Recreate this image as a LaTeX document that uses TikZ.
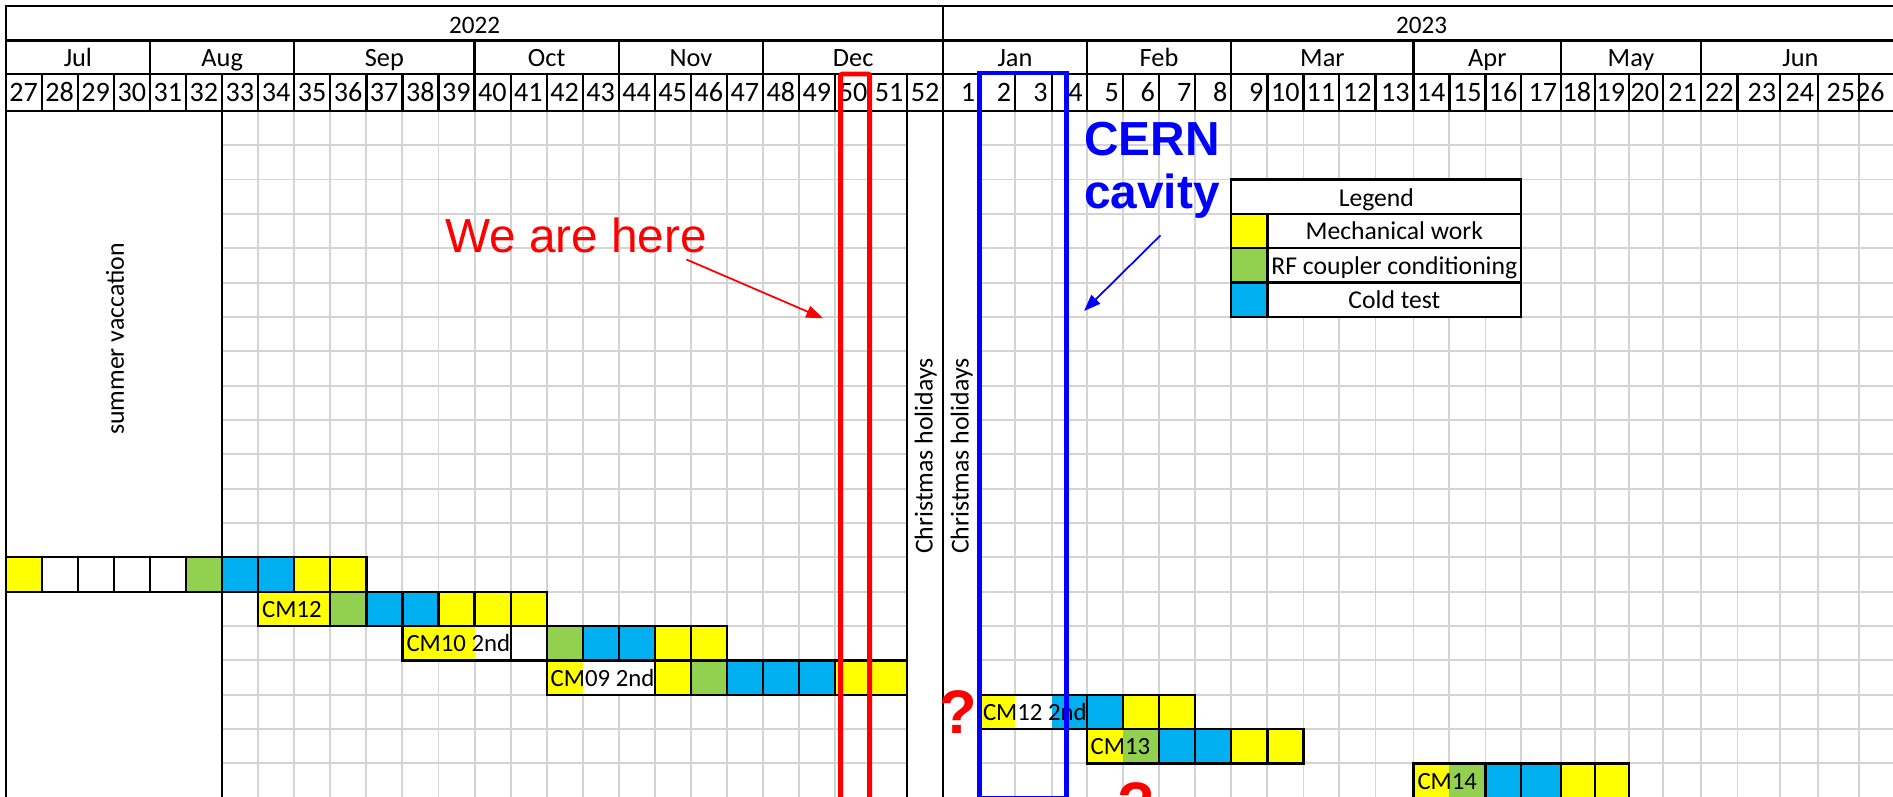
\documentclass[tikz,border=0pt]{standalone}
\usepackage{fontspec}
\setmainfont{Carlito}
\newfontfamily\arialfont{Liberation Sans}
\usetikzlibrary{arrows.meta}
\definecolor{cyel}{HTML}{FFFF00}
\definecolor{cgrn}{HTML}{92D050}
\definecolor{cblu}{HTML}{00B0F0}
\definecolor{cgrid}{RGB}{212,212,212}
\definecolor{cred}{HTML}{FF0000}
\definecolor{cblue}{HTML}{0000FF}
\begin{document}
\begin{tikzpicture}[x=0.02cm,y=-0.02cm,
 blk/.style={line width=1.25pt,draw=black,line cap=rect},
 grd/.style={line width=1.1pt,draw=cgrid},
 txt/.style={inner sep=0pt,outer sep=0pt},
 wklbl/.style={txt,anchor=base east,font=\fontsize{16}{18}\selectfont},
 yrlbl/.style={txt,anchor=base,font=\fontsize{14.3}{16}\selectfont},
 hdlbl/.style={txt,anchor=base,font=\fontsize{15}{17}\selectfont},
 barlbl/.style={txt,anchor=base west,font=\fontsize{14.1}{16}\selectfont},
 lglbl/.style={txt,anchor=base,font=\fontsize{14.6}{16}\selectfont},
 vertlbl/.style={txt,rotate=90,font=\fontsize{14.7}{16}\selectfont},
 redtxt/.style={txt,anchor=base west,text=cred,font=\arialfont\fontsize{27.2}{30}\selectfont},
 bluetxt/.style={txt,anchor=base,text=cblue,font=\arialfont\bfseries\fontsize{27.2}{30}\selectfont},
 qmark/.style={txt,anchor=base,text=cred,font=\arialfont\bfseries\fontsize{35}{40}\selectfont},
 redbox/.style={draw=cred,line width=2.8pt,rounded corners=1.2pt},
 bluebox/.style={draw=cblue,line width=2.8pt},
 redarr/.style={draw=cred,line width=1pt,-{Triangle[length=9.5pt,width=7pt]}},
 bluearr/.style={draw=cblue,line width=1pt,-{Triangle[length=9.5pt,width=7pt]}}
]
\clip (0,0) rectangle (1893,797);
\fill[white] (0,0) rectangle (1893,797);

% column boundaries and row boundaries
\foreach \k/\v in {0/5.8,1/41.86,2/77.92,3/113.98,4/150.04,5/186.1,6/222.16,7/258.22,8/294.28,9/330.34,10/366.4,11/402.46,12/438.52,13/474.58,14/510.64,15/546.7,16/582.76,17/618.82,18/654.88,19/690.94,20/727.0,21/763.06,22/799.12,23/835.18,24/871.24,25/907.3,26/943.36,27/979.0,28/1015.2,29/1051.6,30/1086.7,31/1122.8,32/1158.9,33/1195.3,34/1231.3,35/1267.4,36/1303.5,37/1339.0,38/1375.5,39/1413.5,40/1449.4,41/1485.5,42/1521.3,43/1561.2,44/1595.0,45/1629.0,46/1663.0,47/1700.8,48/1737.5,49/1780.2,50/1818.0,51/1859.0,52/1900}
  \coordinate (x\k) at (\v,0);
\foreach \r in {0,...,20}
  \coordinate (y\r) at (0,{110.8+34.35*\r});
\coordinate (h0) at (0,6);
\coordinate (h1) at (0,40.5);
\coordinate (h2) at (0,74);

% light grid
\foreach \k in {7,...,24} \draw[grd] (x\k|-y0) -- (x\k|-y20);
\foreach \k in {28,...,51} \draw[grd] (x\k|-y0) -- (x\k|-y20);
\foreach \r in {1,...,19} {
  \draw[grd] (x6|-y\r) -- (x25|-y\r);
  \draw[grd] (x27|-y\r) -- (x52|-y\r);
}

% legend
\fill[white] (x34|-y2) rectangle (x42|-y6);
\fill[cyel] (x34|-y3) rectangle (x35|-y4);
\fill[cgrn] (x34|-y4) rectangle (x35|-y5);
\fill[cblu] (x34|-y5) rectangle (x35|-y6);
\draw[blk] (x34|-y2) rectangle (x42|-y6);
\foreach \r in {3,4,5} \draw[blk] (x34|-y\r) -- (x42|-y\r);
\draw[blk] (x35|-y3) -- (x35|-y6);
\node[lglbl] (lgt) at (1376.3,206.35) {Legend};
\node[lglbl] (lg1) at (1394.35,239.7) {Mechanical work};
\node[lglbl] (lg2) at (1394.35,274.05) {RF coupler conditioning};
\node[lglbl] (lg3) at (1394.35,308.4) {Cold test};

% bar fills
\foreach \a/\b/\r/\s/\c in {0/1/13/14/cyel,1/5/13/14/white,5/6/13/14/cgrn,6/8/13/14/cblu,8/10/13/14/cyel,
  7/9/14/15/cyel,9/10/14/15/cgrn,10/12/14/15/cblu,12/15/14/15/cyel,
  11/13/15/16/cyel,13/15/15/16/white,15/16/15/16/cgrn,16/18/15/16/cblu,18/20/15/16/cyel,
  15/16/16/17/cyel,16/18/16/17/white,18/19/16/17/cyel,19/20/16/17/cgrn,20/23/16/17/cblu,23/25/16/17/cyel,
  27/28/17/18/cyel,28/29/17/18/white,29/31/17/18/cblu,31/33/17/18/cyel,
  30/31/18/19/cyel,31/32/18/19/cgrn,32/34/18/19/cblu,34/36/18/19/cyel,
  39/40/19/20/cyel,40/41/19/20/cgrn,41/43/19/20/cblu,43/45/19/20/cyel}
  \fill[\c] (x\a|-y\r) rectangle (x\b|-y\s);

% bar borders
\draw[blk] (x0|-y13) rectangle (x10|-y14);
\foreach \k in {1,...,9} \draw[blk] (x\k|-y13) -- (x\k|-y14);
\draw[blk] (x7|-y14) rectangle (x15|-y15);
\foreach \k in {9,...,14} \draw[blk] (x\k|-y14) -- (x\k|-y15);
\draw[blk] (x11|-y15) rectangle (x20|-y16);
\foreach \k in {14,...,19} \draw[blk] (x\k|-y15) -- (x\k|-y16);
\draw[blk] (x15|-y16) rectangle (x25|-y17);
\foreach \k in {18,...,24} \draw[blk] (x\k|-y16) -- (x\k|-y17);
\draw[blk] (x27|-y17) rectangle (x33|-y18);
\foreach \k in {30,31,32} \draw[blk] (x\k|-y17) -- (x\k|-y18);
\draw[blk] (x30|-y18) rectangle (x36|-y19);
\foreach \k in {32,...,35} \draw[blk] (x\k|-y18) -- (x\k|-y19);
\draw[blk] (x39|-y19) rectangle (x45|-y20);
\foreach \k in {41,...,44} \draw[blk] (x\k|-y19) -- (x\k|-y20);

% header and structural lines
\draw[blk] (x0|-h0) -- (x52|-h0);
\draw[blk] (x0|-h1) -- (x52|-h1);
\draw[blk] (x0|-h2) -- (x52|-h2);
\draw[blk] (x0|-y0) -- (x52|-y0);
\draw[blk] (x0|-h0) -- (x0|-y20);
\draw[blk] (x26|-h0) -- (x26|-y20);
\foreach \k in {4,8,13,17,21,30,34,39,43,47} \draw[blk] (x\k|-h1) -- (x\k|-h2);
\foreach \k in {1,...,51} \draw[blk] (x\k|-h2) -- (x\k|-y0);
\foreach \k in {6,25,27} \draw[blk] (x\k|-y0) -- (x\k|-y20);

% header texts
\node[yrlbl] (yr22) at (474.6,33.3) {2022};
\node[yrlbl] (yr23) at (1421.7,33.3) {2023};
\foreach \n/\xc/\t in {1/77.9/Jul,2/222.2/Aug,3/384.4/Sep,4/546.7/Oct,5/690.9/Nov,6/853.2/Dec,7/1015.0/Jan,8/1159.0/Feb,9/1322.4/Mar,10/1487.35/Apr,11/1631.0/May,12/1800.4/Jun}
  \node[hdlbl] (m\n) at (\xc,66.7) {\t};
\foreach \k/\t/\xr in {0/27/37.86,1/28/73.92,2/29/109.98,3/30/146.04,4/31/182.1,5/32/218.16,6/33/254.22,7/34/290.28,8/35/326.34,9/36/362.4,10/37/398.46,11/38/434.52,12/39/470.58,13/40/506.64,14/41/542.7,15/42/578.76,16/43/614.82,17/44/650.88,18/45/686.94,19/46/723.0,20/47/759.06,21/48/795.12,22/49/831.18,23/50/867.24,24/51/903.3,25/52/939.36,26/1/975.0,27/2/1011.2,28/3/1047.6,29/4/1082.7,30/5/1118.8,31/6/1154.9,32/7/1191.3,33/8/1227.3,34/9/1263.4,35/10/1299.5,36/11/1335.0,37/12/1371.5,38/13/1409.5,39/14/1445.4,40/15/1481.5,41/16/1517.3,42/17/1557.2,43/18/1591.0,44/19/1625.0,45/20/1659.0,46/21/1696.8,47/22/1733.5,48/23/1776.2,49/24/1814.0,50/25/1855.0,51/26/1884.5}
  \node[wklbl] (w\k) at (\xr,101.7) {\t};

% vertical texts
\node[vertlbl] (summer) at (115,339) {summer vaccation};
\node[vertlbl] (xmasA) at (925.7,456) {Christmas holidays};
\node[vertlbl] (xmasB) at (961.7,456) {Christmas holidays};

% bar labels
\node[barlbl] (cm12) at (262.2,617.55) {CM12};
\node[barlbl] (cm10) at (406.5,651.9) {CM10 2nd};
\node[barlbl] (cm09) at (550.7,686.25) {CM09 2nd};
\node[barlbl] (cm12b) at (983.0,720.6) {CM12 2nd};
\node[barlbl] (cm13) at (1090.7,754.95) {CM13};
\node[barlbl] (cm14) at (1417.5,789.3) {CM14};

% highlight boxes
\draw[redbox] (840.65,74) rectangle (869.65,830);
\draw[bluebox] (979.5,73) rectangle (1066.7,798.5);

% annotations
\node[redtxt] (here) at (445,252.7) {We are here};
\coordinate (heretip) at (823,318.3);
\draw[redarr] ([shift={(-20.7,6.3)}]here.south east) -- (heretip);
\node[bluetxt] (cernA) at (1152,156) {CERN};
\node[bluetxt] (cernB) at (1152,208.3) {cavity};
\coordinate (cerntip) at (1084,311);
\draw[bluearr] ([shift={(8.5,27)}]cernB.base) -- (cerntip);
\node[qmark] (qA) at (958,733) {?};
\node[qmark] (qB) at (1136,825) {?};
\end{tikzpicture}
\end{document}
